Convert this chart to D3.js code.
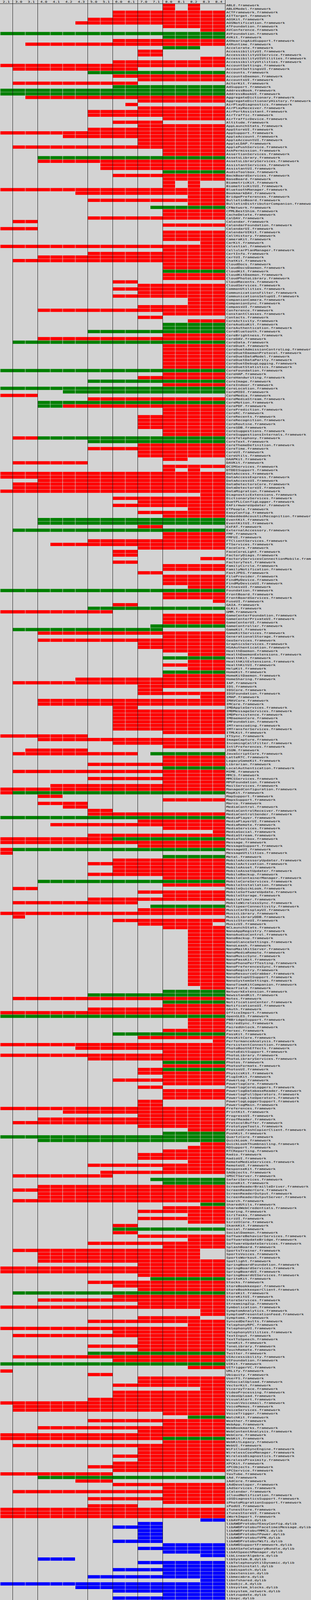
<!DOCTYPE html>
<html>
<head>
<meta charset="utf-8">
<script src="https://cdn.jsdelivr.net/npm/d3@7"></script>
<style>
  body { margin: 0; background: #d3d3d3; overflow: hidden; }
  svg { display: block; }
  text { font-family: "DejaVu Sans Mono", monospace; font-size: 10px; fill: #000; }
</style>
</head>
<body>
<svg id="chart"></svg>
<script>
// iOS versions (columns)
const versions = ['2.1', '3.0', '3.1', '4.0', '4.1', '4.2', '4.3', '5.0', '5.1',
    '6.0', '6.1', '7.0', '7.1', '8.0', '8.1', '8.2', '8.3', '8.4'];

// Framework / library names (rows). ".framework" is added to names without ".dylib".
const frameworks = [
    'ABLE', 'ABLEModel', 'ACTFramework', 'AITTarget', 'AOSKit', 'AOSNotification', 'ATFoundation', 'AVConference', 'AVFoundation', 'AVKit',
    'AXHearingAidSupport', 'AXRuntime', 'Accelerate', 'AccessibilityUI', 'AccessibilityUIService', 'AccessibilityUIUtilities', 'AccessibilityUtilities', 'AccountSettings', 'AccountSettingsUI', 'Accounts',
    'AccountsDaemon', 'AccountsUI', 'ActorKit', 'AdSupport', 'AddressBook', 'AddressBookUI', 'AggregateDictionary', 'AggregateDictionaryHistory', 'AirPlayDiagnostics', 'AirPlayReceiver',
    'AirPortAssistant', 'AirTraffic', 'AirTrafficDevice', 'Altitude', 'AppLaunchStats', 'AppStoreUI', 'AppSupport', 'AppleAccount', 'AppleAccountUI', 'AppleLDAP',
    'ApplePushService', 'AskPermission', 'AssertionServices', 'AssetsLibrary', 'AssetsLibraryServices', 'AssistantServices', 'AssistantUI', 'AudioToolbox', 'BackBoardServices', 'BaseBoard',
    'BiometricKit', 'BiometricKitUI', 'BluetoothManager', 'BookmarkDAV', 'BridgePreferences', 'BulletinBoard', 'BulletinDistributorCompanion', 'CFNetwork', 'CPMLBestShim', 'CacheDelete',
    'CalDAV', 'Calendar', 'CalendarFoundation', 'CalendarUI', 'CalendarUIKit', 'CallHistory', 'CameraKit', 'CarKit', 'Celestial', 'CellularPlanManager',
    'CertInfo', 'CertUI', 'ChatKit', 'CloudDocs', 'CloudDocsDaemon', 'CloudKit', 'CloudKitDaemon', 'CloudPhotoLibrary', 'CloudRecents', 'CloudServices',
    'CommonUtilities', 'CommunicationsFilter', 'CommunicationsSetupUI', 'CompanionCamera', 'CompanionSync', 'CompassUI', 'Conference', 'ConstantClasses', 'Contacts', 'CoreActivity',
    'CoreAudioKit', 'CoreAuthentication', 'CoreBluetooth', 'CoreBrightness', 'CoreDAV', 'CoreData', 'CoreDuet', 'CoreDuetAdmissionControlLog', 'CoreDuetDaemonProtocol', 'CoreDuetDataModel',
    'CoreDuetDataParity', 'CoreDuetDebugLogging', 'CoreDuetStatistics', 'CoreFoundation', 'CoreHAP', 'CoreHandwriting', 'CoreImage', 'CoreIndoor', 'CoreLocation', 'CoreMIDI',
    'CoreMedia', 'CoreMediaStream', 'CoreMotion', 'CorePDF', 'CorePrediction', 'CoreRC', 'CoreRecents', 'CoreRecognition', 'CoreRoutine', 'CoreSDB',
    'CoreSuggestions', 'CoreSuggestionsInternals', 'CoreTelephony', 'CoreText', 'CoreThemeDefinition', 'CoreTime', 'CoreUI', 'CoreUtils', 'DAAPKit', 'DAVKit',
    'DCIMServices', 'DTDDISupport', 'DataAccess', 'DataAccessExpress', 'DataAccessUI', 'DataDetectorsCore', 'DataDetectorsUI', 'DataMigration', 'DiagnosticExtensions', 'DictionaryServices',
    'DuetPLLConfigLogger', 'EAFirmwareUpdater', 'ETPeople', 'EasyConfig', 'EmbeddedAcousticRecognition', 'EventKit', 'EventKitUI', 'ExFAT', 'ExternalAccessory', 'FMF',
    'FMFUI', 'FTClientServices', 'FTServices', 'FaceCore', 'FaceCoreLight', 'FactoryDiags', 'FactoryServicesConnectionMobile', 'FactoryTest', 'FamilyCircle', 'FamilyNotification',
    'FastJPEG', 'FileProvider', 'FindMyDevice', 'FindMyDeviceUI', 'FitnessUI', 'Foundation', 'FrontBoard', 'FrontBoardServices', 'FuseUI', 'GAIA',
    'GLKit', 'GMM', 'GameCenterFoundation', 'GameCenterPrivateUI', 'GameCenterUI', 'GameController', 'GameKit', 'GameKitServices', 'GenerationalStorage', 'GeoServices',
    'GraphicsServices', 'HSAAuthentication', 'HealthDaemon', 'HealthDaemonExtensions', 'HealthKit', 'HealthKitExtensions', 'HealthKitUI', 'HelpKit', 'HomeKit', 'HomeKitDaemon',
    'HomeSharing', 'IAP', 'IDS', 'IDSCore', 'IDSFoundation', 'IMAP', 'IMAVCore', 'IMCore', 'IMDAppleServices', 'IMDMessageServices',
    'IMDPersistence', 'IMDaemonCore', 'IMFoundation', 'IMTranscoding', 'IMTransferServices', 'ITMLKit', 'ITSync', 'ImageCapture', 'IncomingCallFilter', 'IntlPreferences',
    'JSON', 'JavaScriptCore', 'LatteRTC', 'LegacyGameKit', 'Librarian', 'LocalAuthentication', 'MIME', 'MMCS', 'MMCSServices', 'MPUFoundation',
    'MailServices', 'ManagedConfiguration', 'MapKit', 'MapSupport', 'MapsSupport', 'Marco', 'MediaControl', 'MediaControlReceiver', 'MediaControlSender', 'MediaPlayer',
    'MediaPlayerUI', 'MediaRemote', 'MediaServices', 'MediaSocial', 'MediaStream', 'MediaToolbox', 'Message', 'MessageSupport', 'MessageUI', 'MessageUtilities',
    'Metal', 'MobileAccessoryUpdater', 'MobileActivation', 'MobileAsset', 'MobileAssetUpdater', 'MobileBackup', 'MobileContainerManager', 'MobileCoreServices', 'MobileInstallation', 'MobileQuickLook',
    'MobileSoftwareUpdate', 'MobileStorage', 'MobileTimer', 'MobileWirelessSync', 'MultipeerConnectivity', 'MusicCarDisplayUI', 'MusicLibrary', 'MusicLibraryDDB', 'MusicStoreUI', 'MusicUI',
    'NCLaunchStats', 'NanoAppRegistry', 'NanoAudioControl', 'NanoBackup', 'NanoGlanceSettings', 'NanoLeash', 'NanoMailKitServer', 'NanoMediaRemote', 'NanoMusicSync', 'NanoPassKit',
    'NanoPhonePerfTesting', 'NanoPreferencesSync', 'NanoRegistry', 'NanoResourceGrabber', 'NanoSetupUISupport', 'NanoSystemSettings', 'NanoTimeKitCompanion', 'NearField', 'NetworkExtension', 'NewsstandKit',
    'Notes', 'NotificationCenter', 'NotificationsUI', 'OAuth', 'OfficeImport', 'OpenGLES', 'PBBridgeSupport', 'PairedSync', 'PairedUnlock', 'Parsec',
    'PassKit', 'PassKitCore', 'PerformanceAnalysis', 'PersistentConnection', 'PhotoBoothEffects', 'PhotoEditSupport', 'PhotoLibrary', 'PhotoLibraryServices', 'Photos', 'PhotosFormats',
    'PhotosUI', 'PhysicsKit', 'PlugInKit', 'PowerLog', 'PowerlogCore', 'PowerlogCoreLoggers', 'PowerlogDatabaseReader', 'PowerlogFullOperators', 'PowerlogLiteOperators', 'PowerlogLoggerSupport',
    'PowerlogMain', 'Preferences', 'PrintKit', 'ProgressUI', 'ProofReader', 'ProtocolBuffer', 'PrototypeTools', 'ProxiedCrashCopierClient', 'PushKit', 'QuartzCore',
    'QuickLook', 'QuickLookThumbnailing', 'RDSupport', 'RTCReporting', 'Radio', 'RadioUI', 'RemoteMediaServices', 'RemoteUI', 'ResponseKit', 'SAObjects',
    'SMSCTServer', 'SafariServices', 'SceneKit', 'ScreenReaderBrailleDriver', 'ScreenReaderCore', 'ScreenReaderOutput', 'ScreenReaderOutputServer', 'Search', 'SharedUtils', 'SharedWebCredentials',
    'Sharing', 'SiriTasks', 'SiriUI', 'SiriUICore', 'SkankKit', 'Social', 'SocialDaemon', 'SoftwareBehaviorServices', 'SoftwareUpdateBridge', 'SoftwareUpdateServices',
    'SplashBoard', 'SportsTrainer', 'SportsVoices', 'SportsWorkout', 'Spotlight', 'SpringBoardFoundation', 'SpringBoardServices', 'SpringBoardUI', 'SpringBoardUIServices', 'SpriteKit',
    'Stocks', 'StoreBookkeeper', 'StoreBookkeeperClient', 'StoreKit', 'StoreKitUI', 'StoreServices', 'StreamingZip', 'Symbolication', 'SymptomAnalytics', 'SymptomPresentationFeed',
    'Symptoms', 'SyncedDefaults', 'TelephonyRPC', 'TelephonyUI', 'TelephonyUtilities', 'TextInput', 'TextToSpeech', 'ToneKit', 'ToneLibrary', 'TouchRemote',
    'Twitter', 'UIAccessibility', 'UIFoundation', 'UIKit', 'UITriggerVC', 'URLify', 'Ubiquity', 'UserFS', 'VUSocialUpload', 'VectorKit',
    'ViceroyTrace', 'VideoProcessing', 'VideoUpload', 'VisualAlert', 'VisualVoicemail', 'VoiceMemos', 'VoiceServices', 'VoiceTrigger', 'WatchKit', 'Weather',
    'WebApp', 'WebBookmarks', 'WebContentAnalysis', 'WebCore', 'WebKit', 'WebKitLegacy', 'WebUI', 'WiFiCloudSyncEngine', 'WirelessCoexManager', 'WirelessDiagnostics',
    'WirelessProximity', 'XPCKit', 'XPCObjects', 'XPCService', 'YouTube', 'iAd', 'iAdCore', 'iAdDeveloper', 'iAdServices', 'iCalendar',
    'iCloudNotification', 'iOSDiagnosticsSupport', 'iPhotoMigrationSupport', 'iPodUI', 'iTunesStore', 'iTunesStoreUI', 'iWorkImport', 'libAVFAudio.dylib', 'libAWDProtobufEasyConfig.dylib', 'libAWDProtobufFacetimeiMessage.dylib',
    'libAWDProtobufMMCS.dylib', 'libAWDProtobufPower.dylib', 'libAWDProtobufVPN.dylib', 'libAWDProtobufWifi.dylib', 'libAWDSupportFramework.dylib', 'libAXSafeCategoryBundle.dylib', 'libAXSpeechManager.dylib', 'libLinearAlgebra.dylib', 'libSystem.B.dylib', 'libTelephonyUtilDynamic.dylib',
    'libauthinstall.dylib', 'libdispatch.dylib', 'libextension.dylib', 'libmecabra.dylib', 'libnfshared.dylib', 'libobjc.A.dylib', 'libsystem_blocks.dylib', 'libsystem_network.dylib', 'libtzupdate.dylib', 'libxpc.dylib'
];

// Availability per row: kind letter + column range (indexes into versions).
// r = private framework, g = public framework, b = dylib
const availability = [
    'r13 r15', 'r13 r15', 'r9-17', 'r9-17', 'r7-17', 'r6-17', 'r13-17', 'r16-17', 'g0-17', 'g13-17',
    'r9-17', 'r2-17', 'g13-15', 'r11-12', 'r11-12', 'r16-17', 'r9-17', 'r0-17', 'r1-10', 'g7-17',
    'r9-17', 'r11-17', 'r1-10', 'g9-17', 'g0-17', 'g0-17', 'r2-17', 'r11-17', 'r10', 'r11-17',
    'r7-17', 'r7-17', 'r13-17', 'r9-12', 'r11-17', 'r7-17', 'r0-17', 'r5-17', 'r11-17', 'r11-17',
    'r1-17', 'r13-17', 'r13-17', 'g3-17', 'r3-17', 'r8-17', 'r8-17', 'g13-17', 'r9-17', 'r13-17',
    'r13 r15', 'r13 r15', 'r0-17', 'r6-17', 'r15-17', 'r7-17', 'r15-17', 'g12-17', 'r13-17', 'r13-17',
    'r7-17', 'r1-2', 'r13-17', 'r0-2', 'r13-17', 'r13-17', 'r13-17', 'r16-17', 'r0-17', 'r13-17',
    'r7-17', 'r3-17', 'r1-17', 'r13-17', 'r13-17', 'g13-17', 'r13-17', 'r13-17', 'r9-10', 'r11-17',
    'r9-17', 'r11-17', 'r9-17', 'r15-17', 'r15-17', 'r11-17', 'r3-17', 'r13-17', 'r11-12', 'r15-17',
    'g13-17', 'g13-17', 'g7-17', 'r13-17', 'r3-17', 'g1-17', 'r13-17', 'r13-17', 'r13-17', 'r13-17',
    'r13-17', 'r13-17', 'r13-17', 'g0-17', 'r13-17', 'r11-17', 'g7-17', 'r13-17', 'g0-17', 'g5-17',
    'r0-2', 'r7-17', 'g3-17', 'g3-4 r5-17', 'r13-17', 'r13-17', 'r11-17', 'r11-17', 'r11-17', 'r11-17',
    'r13-17', 'r13-17', 'r1-2 g3-17', 'g7-17', 'r11-17', 'r7-17', 'r11-17', 'r11-17', 'r13-14', 'r1-6',
    'r13-17', 'r13 r15', 'r0-17', 'r0-17', 'r3-17', 'r1-17', 'r1-17', 'r0-17', 'r16-17', 'r9-17',
    'r11-17', 'r9-17', 'r15-17', 'r11-17', 'r13-17', 'g3-17', 'g3-17', 'r11-12', 'g1-17', 'r13-17',
    'r13-17', 'r7-17', 'r4-17', 'r11-17', 'r9-10', 'r9-10', 'r16-17', 'r9-10', 'r13-17', 'r13-17',
    'r11-12', 'r13-17', 'r13-17', 'r13-17', 'r15-17', 'g0-17', 'r13-17', 'r13-17', 'r17', 'r9-10',
    'g7-17', 'r0-8', 'r13-17', 'r13-17', 'r13-17', 'g12-17', 'g1-12', 'r3-17', 'r13-17', 'r3-17',
    'r11-17', 'r11-17', 'r13-17', 'r15-17', 'g13-17', 'r15-17', 'r13-17', 'r15-17', 'g13-17', 'r13-17',
    'r6-17', 'r1-17', 'r11-17', 'r11-12', 'r11-17', 'r16-17', 'r3-17', 'r3-17', 'r9-10', 'r9-17',
    'r9-17', 'r9-17', 'r9-17', 'r9-17', 'r9-17', 'r13-17', 'r0-6', 'r3-17', 'r9-17', 'r13-17',
    'r2-6', 'r1-10 g12-17', 'r13-17', 'r13-17', 'r7-17', 'g13-17', 'r1-17', 'r13-17', 'r7-17', 'r13-17',
    'r4-17', 'r0-17', 'r0 g1-17', 'r3-4', 'r13-17', 'r3-6', 'r5-6', 'r7-8', 'r7-17', 'g0-17',
    'r11-17', 'r4-17', 'r13-17', 'r17', 'r7-17', 'r0-8 g9-17', 'r0-17', 'r11-17', 'r0 g1-17', 'r0',
    'g13-17', 'r9-17', 'r7-17', 'r9-17', 'r9-17', 'r7-17', 'r13-17', 'g3-17', 'r13-17', 'r1-2',
    'r11-17', 'r13-17', 'r7-17', 'r1-10', 'g12-17', 'r11-17', 'r0-17', 'r1', 'r9-17', 'r11-16',
    'r13-17', 'r15-17', 'r15-17', 'r15-17', 'r15-17', 'r15-17', 'r15-17', 'r15-17', 'r15-17', 'r15-17',
    'r15-17', 'r15-17', 'r15-17', 'r15-17', 'r15-17', 'r15-17', 'r15-17', 'r16-17', 'g13-17', 'g7-17',
    'r1-17', 'g13-17', 'r13-17', 'r7-17', 'r0-17', 'g0-17', 'r15-17', 'r15-17', 'r15-17', 'r13-17',
    'g9-17', 'r11-17', 'r17', 'r0-17', 'r6-17', 'r13-17', 'r0-17', 'r7-17', 'g13-17', 'r13-17',
    'r11-12 g13-17', 'r11-17', 'r13-17', 'r9-17', 'r13-17', 'r11-12', 'r13-17', 'r13-17', 'r13-17', 'r11-12',
    'r11-12', 'r0-17', 'r5-17', 'r11-17', 'r3-17', 'r1-17', 'r11-17', 'r15-17', 'g13-17', 'g0-17',
    'g3-17', 'r16-17', 'r15-17', 'r13-17', 'r11-17', 'r11-17', 'r15-17', 'r7-17', 'r13-17', 'r8-17',
    'r1-8', 'g12-17', 'g13-17', 'r3-17', 'r1-17', 'r3-17', 'r3-17', 'r1-17', 'g16-17', 'r13-17',
    'r11-17', 'r15-17', 'r11-17', 'r15-17', 'r9-10', 'g9-17', 'r9-10', 'r11-17', 'r15-17', 'r7-17',
    'r13-17', 'r1-15', 'r3-15', 'r3-15', 'r3-17', 'r11-17', 'r0-17', 'r0-17', 'r11-17', 'g12-17',
    'r7-17', 'r9-17', 'r11-17', 'g1-17', 'r9-17', 'r3-17', 'r11-17', 'r0-17', 'r16-17', 'r16-17',
    'r11-15', 'r7-17', 'r15-17', 'r0-17', 'r9-17', 'r1-17', 'r11-17', 'r11-17', 'r7-17', 'r11-17',
    'g7-17', 'r1-17', 'r9-17', 'g0-17', 'r15-17', 'r0', 'r7-8', 'r11-17', 'r11-17', 'r9-17',
    'r16-17', 'r9-17', 'r9-17', 'r7-17', 'r0-17', 'r1-17', 'r1-17', 'r13-17', 'g15-17', 'r7-17',
    'r13-17', 'r3-17', 'r11-17', 'r0-17', 'r0-12 g13-17', 'r13-17', 'r1-17', 'r11-17', 'r11-17', 'r9-17',
    'r11-17', 'r9-17', 'r7-17', 'r9-17', 'r0-8', 'g3-17', 'r6-8', 'r9-17', 'r13-17', 'r1-17',
    'r13-17', 'r7-17', 'r13-17', 'r7-10', 'r0-17', 'r0-17', 'r0-17', 'b16-17', 'b11-12', 'b9-12',
    'b11-12', 'b11-12', 'b11-12', 'b9-12', 'b13-17', 'b11-17', 'b13-17', 'b16-17', 'b3-5', 'b11-17',
    'b13-17', 'b9-17', 'b13-17', 'b7-17', 'b16-17', 'b0-17', 'b6-17', 'b9-17', 'b13-17', 'b9-17'
];

// Versions that start a new major release (a black divider is drawn before them)
const majorStarts = ['3.0', '4.0', '5.0', '6.0', '7.0', '8.0'];

const kindColors = { r: '#ff0000', g: '#008000', b: '#0000ff' };

const w = 796;
const headerH = 12;
const rowH = 12;
const gridW = 576;
const h = headerH + rowH * frameworks.length; // 5412

// The browser window may be shorter than the chart; squeeze it vertically to fit.
const outH = Math.min(h, window.innerHeight || h);

const x = d3.scaleBand().domain(versions).range([0, gridW]);
const y = d3.scaleBand().domain(d3.range(frameworks.length)).range([headerH, h]);

// Expand range codes into cells
const cells = [];
availability.forEach((code, row) => {
    code.split(' ').forEach(token => {
        const kind = token[0];
        const [from, to] = token.slice(1).split('-').map(Number);
        for (let c = from; c <= (to === undefined ? from : to); c++) {
            cells.push({ row, version: versions[c], kind });
        }
    });
});

const svg = d3.select('#chart')
    .attr('width', w)
    .attr('height', outH)
    .attr('viewBox', `0 0 ${w} ${h}`)
    .attr('preserveAspectRatio', 'none');

svg.append('rect')
    .attr('width', w)
    .attr('height', h)
    .attr('fill', '#d3d3d3');

// Cells: 1px gap on the left and bottom of each cell
svg.append('g')
    .attr('class', 'cells')
    .selectAll('rect')
    .data(cells)
    .enter()
    .append('rect')
    .attr('x', d => x(d.version) + 1)
    .attr('y', d => y(d.row))
    .attr('width', x.bandwidth() - 1)
    .attr('height', y.bandwidth() - 1)
    .attr('fill', d => kindColors[d.kind]);

// Major version dividers
const dividers = majorStarts.map(v => x(v)).concat([gridW]);
svg.append('g')
    .selectAll('line')
    .data(dividers)
    .enter()
    .append('line')
    .attr('x1', d => d + 0.5)
    .attr('x2', d => d + 0.5)
    .attr('y1', 0)
    .attr('y2', h)
    .attr('stroke', '#000')
    .attr('stroke-width', 1);

svg.append('line')
    .attr('x1', 0)
    .attr('x2', gridW + 1)
    .attr('y1', headerH + 0.5)
    .attr('y2', headerH + 0.5)
    .attr('stroke', '#000')
    .attr('stroke-width', 1);

// Column headers
svg.append('g')
    .selectAll('text')
    .data(versions)
    .enter()
    .append('text')
    .attr('x', d => x(d) + x.bandwidth() / 2)
    .attr('y', 9.5)
    .attr('text-anchor', 'middle')
    .text(d => d);

// Row labels
svg.append('g')
    .selectAll('text')
    .data(frameworks)
    .enter()
    .append('text')
    .attr('x', gridW + 3)
    .attr('y', (d, i) => y(i) + 9)
    .text(d => d.endsWith('.dylib') ? d : d + '.framework');
</script>
</body>
</html>
